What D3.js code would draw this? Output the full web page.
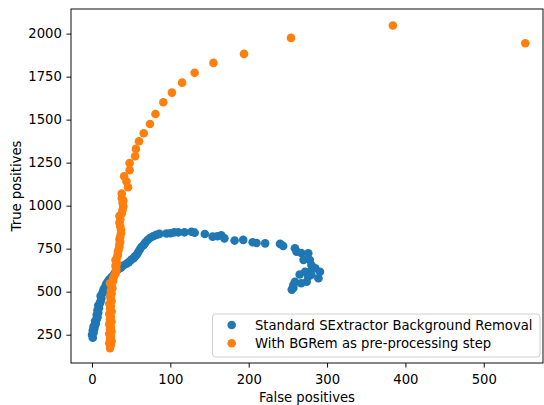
<!DOCTYPE html>
<html>
<head>
<meta charset="utf-8">
<script src="https://cdn.jsdelivr.net/npm/d3@7"></script>
<style>
  html, body { margin: 0; padding: 0; background: #fff; }
  svg { display: block; font-family: "DejaVu Sans", sans-serif; }
</style>
</head>
<body>
<svg id="chart" width="544" height="405"></svg>
<script>
// False positives / true positives for each detection threshold
const standardFP = [1, 0, 2, 1, 3, 2, 4, 5, 4, 6, 7, 6, 8, 7, 9, 8, 10, 11, 12, 11, 13, 14, 15, 17, 18, 20, 22, 25, 28, 30, 33, 37, 40, 44, 47, 50, 53, 55, 57, 59, 61, 63, 66, 68, 71, 74, 78, 82, 86, 95, 100, 105, 110, 118, 127, 131, 144, 154, 160, 165, 169, 182, 193, 205, 210, 221, 240, 244, 259, 261, 267, 276, 270, 278, 280, 285, 291, 272, 278, 280, 265, 289, 276, 274, 267, 259, 257, 255, 257];
const standardTP = [232, 250, 262, 275, 285, 298, 305, 318, 330, 340, 352, 365, 378, 392, 405, 420, 432, 445, 460, 475, 488, 500, 515, 530, 545, 558, 570, 585, 600, 615, 628, 640, 652, 662, 672, 685, 695, 705, 715, 730, 745, 760, 772, 785, 800, 812, 822, 830, 836, 838, 840, 845, 845, 845, 848, 843, 835, 820, 822, 828, 810, 797, 801, 787, 783, 781, 778, 766, 752, 733, 725, 723, 685, 684, 655, 636, 616, 616, 616, 598, 600, 578, 587, 558, 549, 558, 539, 512, 522];

const bgremFP = [23, 24, 22, 25, 23, 24, 22, 25, 23, 24, 22, 25, 23, 24, 22, 25, 23, 24, 22, 25, 24, 23, 25, 24, 26, 25, 23, 27, 27, 28, 30, 31, 31, 30, 32, 30, 32, 33, 33, 34, 35, 35, 36, 35, 36, 37, 37, 36, 35, 36, 35, 38, 39, 40, 39, 40, 38, 38, 46, 44, 41, 48, 48, 55, 56, 60, 66, 74, 81, 91, 102, 115, 131, 155, 194, 254, 384, 553];
const bgremTP = [172, 190, 200, 212, 225, 240, 255, 268, 282, 295, 310, 325, 340, 355, 370, 385, 400, 415, 430, 445, 460, 475, 490, 505, 520, 535, 549, 562, 575, 590, 605, 620, 636, 650, 665, 684, 700, 715, 730, 745, 760, 775, 790, 805, 820, 840, 860, 880, 900, 920, 940, 955, 975, 995, 1015, 1030, 1043, 1070, 1107, 1140, 1171, 1206, 1247, 1287, 1330, 1374, 1421, 1475, 1533, 1601, 1657, 1715, 1772, 1830, 1882, 1975, 2047, 1944];

const xTicks = [0, 100, 200, 300, 400, 500];
const yTicks = [250, 500, 750, 1000, 1250, 1500, 1750, 2000];

const seriesNames = ["Standard SExtractor Background Removal", "With BGRem as pre-processing step"];
const seriesColors = ["#1f77b4", "#ff7f0e"];

const svg = d3.select("#chart");
const plot = { left: 71, right: 543, top: 9, bottom: 363 };
const fontSize = 13.2;

const x = d3.scaleLinear().domain([-26.8, 575.6]).range([plot.left, plot.right]);
const y = d3.scaleLinear().domain([85.5, 2143]).range([plot.bottom, plot.top]);

const series = [
  standardFP.map((v, i) => ({ fp: v, tp: standardTP[i] })),
  bgremFP.map((v, i) => ({ fp: v, tp: bgremTP[i] }))
];

// points
svg.append("clipPath").attr("id", "plotclip")
  .append("rect")
  .attr("x", plot.left).attr("y", plot.top)
  .attr("width", plot.right - plot.left).attr("height", plot.bottom - plot.top);

const marks = svg.append("g").attr("clip-path", "url(#plotclip)");
series.forEach((pts, si) => {
  marks.append("g")
    .selectAll("circle")
    .data(pts)
    .join("circle")
    .attr("cx", d => x(d.fp))
    .attr("cy", d => y(d.tp))
    .attr("r", 4.3)
    .attr("fill", seriesColors[si]);
});

// axes
const xAxis = svg.append("g")
  .attr("transform", `translate(0,${plot.bottom})`)
  .call(d3.axisBottom(x).tickValues(xTicks).tickFormat(d3.format("d"))
    .tickSize(4.6).tickPadding(7.5).tickSizeOuter(0));
const yAxis = svg.append("g")
  .attr("transform", `translate(${plot.left},0)`)
  .call(d3.axisLeft(y).tickValues(yTicks).tickFormat(d3.format("d"))
    .tickSize(4.6).tickPadding(4.6).tickSizeOuter(0));

[xAxis, yAxis].forEach(a => {
  a.select(".domain").remove();
  a.selectAll(".tick line").attr("stroke", "#000").attr("stroke-width", 0.95);
  a.selectAll(".tick text")
    .attr("fill", "#000")
    .style("font-size", fontSize + "px")
    .style("font-family", "DejaVu Sans, sans-serif");
});

// frame
svg.append("rect")
  .attr("x", plot.left).attr("y", plot.top)
  .attr("width", plot.right - plot.left).attr("height", plot.bottom - plot.top)
  .attr("fill", "none").attr("stroke", "#000").attr("stroke-width", 0.95);

// axis titles
svg.append("text")
  .attr("x", (plot.left + plot.right) / 2).attr("y", 402)
  .attr("text-anchor", "middle")
  .style("font-size", fontSize + "px")
  .text("False positives");

svg.append("text")
  .attr("transform", `translate(21,${(plot.top + plot.bottom) / 2}) rotate(-90)`)
  .attr("text-anchor", "middle")
  .style("font-size", fontSize + "px")
  .text("True positives");

// legend
const legend = svg.append("g");
legend.append("rect")
  .attr("x", 212.5).attr("y", 314)
  .attr("width", 327.5).attr("height", 43)
  .attr("rx", 3).attr("ry", 3)
  .attr("fill", "#fff").attr("fill-opacity", 0.8)
  .attr("stroke", "#cccccc").attr("stroke-width", 0.95);

seriesNames.forEach((name, i) => {
  const cy = 325 + i * 18.3;
  legend.append("circle")
    .attr("cx", 231.7).attr("cy", cy).attr("r", 4.3)
    .attr("fill", seriesColors[i]);
  legend.append("text")
    .attr("x", 255).attr("y", cy)
    .attr("dy", "0.36em")
    .style("font-size", fontSize + "px")
    .text(name);
});
</script>
</body>
</html>
